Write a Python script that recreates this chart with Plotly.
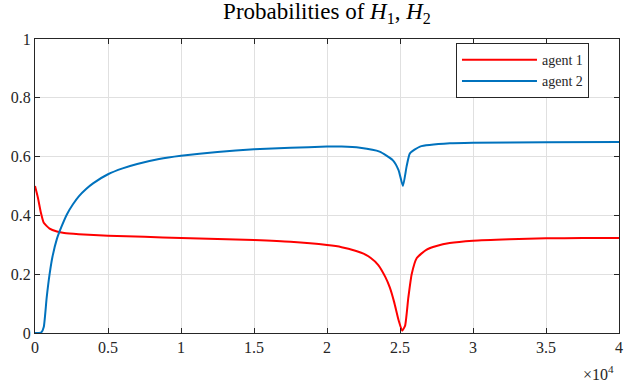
import plotly.graph_objs as go

# iteration values
x_agent1 = [0, 200, 400, 600, 1000, 1500, 2000, 3000, 5000, 7500, 10000, 12500,
            15000, 17500, 20000, 21000, 22000, 22500, 23000, 23500, 24000, 24300,
            24600, 24900, 25150, 25350, 25570, 25800, 26150, 26800, 27500, 28400,
            30000, 32500, 35000, 37500, 40000]
p_agent1 = [0.5, 0.46, 0.41, 0.375, 0.355, 0.345, 0.34, 0.336, 0.331, 0.327, 0.323, 0.32,
            0.316, 0.31, 0.299, 0.292, 0.279, 0.27, 0.255, 0.232, 0.19, 0.155,
            0.105, 0.044, 0.008, 0.025, 0.12, 0.2, 0.255, 0.283, 0.296, 0.306,
            0.314, 0.319, 0.322, 0.323, 0.323]

x_agent2 = [0, 300, 450, 600, 800, 1000, 1200, 1500, 1800, 2200, 2600, 3000, 3500,
            4000, 5000, 6000, 7000, 8500, 10000, 12500, 15000, 17500, 20000, 21000,
            22260, 23600, 24500, 24900, 25200, 25450, 25680, 26370, 28420, 30000,
            35000, 40000]
p_agent2 = [0.0, 0.0, 0.003, 0.02, 0.12, 0.2, 0.26, 0.32, 0.36, 0.405, 0.438, 0.465, 0.49,
            0.51, 0.54, 0.56, 0.575, 0.592, 0.603, 0.616, 0.625, 0.63, 0.634, 0.634,
            0.63, 0.617, 0.588, 0.554, 0.5, 0.566, 0.611, 0.634, 0.645, 0.647,
            0.649, 0.65]

xtick_vals = [0, 5000, 10000, 15000, 20000, 25000, 30000, 35000, 40000]
xtick_text = ['0', '0.5', '1', '1.5', '2', '2.5', '3', '3.5', '4']
ytick_vals = [0, 0.2, 0.4, 0.6, 0.8, 1]
ytick_text = ['0', '0.2', '0.4', '0.6', '0.8', '1']

serif = 'Liberation Serif'

fig = go.Figure()
fig.add_trace(go.Scatter(x=x_agent1, y=p_agent1, mode='lines', name='agent 1',
                         line=dict(color='#FF0000', width=2, shape='spline', smoothing=0.5)))
fig.add_trace(go.Scatter(x=x_agent2, y=p_agent2, mode='lines', name='agent 2',
                         line=dict(color='#0072BD', width=2, shape='spline', smoothing=0.5)))

axis_style = dict(showline=True, linecolor='#262626', linewidth=1, mirror='ticks',
                  ticks='inside', ticklen=5, tickcolor='#262626',
                  showgrid=True, gridcolor='#e0e0e0', gridwidth=1, zeroline=False,
                  automargin=False,
                  tickfont=dict(family=serif, size=16, color='#262626'))

fig.update_layout(
    width=627, height=386,
    margin=dict(l=35, r=8, t=39, b=53),
    paper_bgcolor='white', plot_bgcolor='white',
    title=dict(text='Probabilities of <i>H</i><sub>1</sub>, <i>H</i><sub>2</sub>',
               x=0.5, xref='paper', y=0.972, yref='container', yanchor='middle',
               automargin=False,
               font=dict(family=serif, size=23, color='black')),
    xaxis=dict(range=[0, 40000], tickvals=xtick_vals, ticktext=xtick_text, **axis_style),
    yaxis=dict(range=[0, 1], tickvals=ytick_vals, ticktext=ytick_text, **axis_style),
    legend=dict(x=0.9486, xanchor='right', y=0.986, yanchor='top',
                bordercolor='#262626', borderwidth=1, bgcolor='white',
                font=dict(family=serif, size=14, color='#262626'),
                itemwidth=75, tracegroupgap=0),
    showlegend=True,
)

fig.add_annotation(text='\u00d710<sup>4</sup>', xref='paper', yref='paper',
                   x=0.995, y=-0.095, xanchor='right', yanchor='top', showarrow=False,
                   font=dict(family=serif, size=16, color='#262626'))

# page body has a default 8px margin, drop it so the figure fills the window
fig.write_html("out.html", config={'displayModeBar': False},
               post_script="document.body.style.margin='0';")
